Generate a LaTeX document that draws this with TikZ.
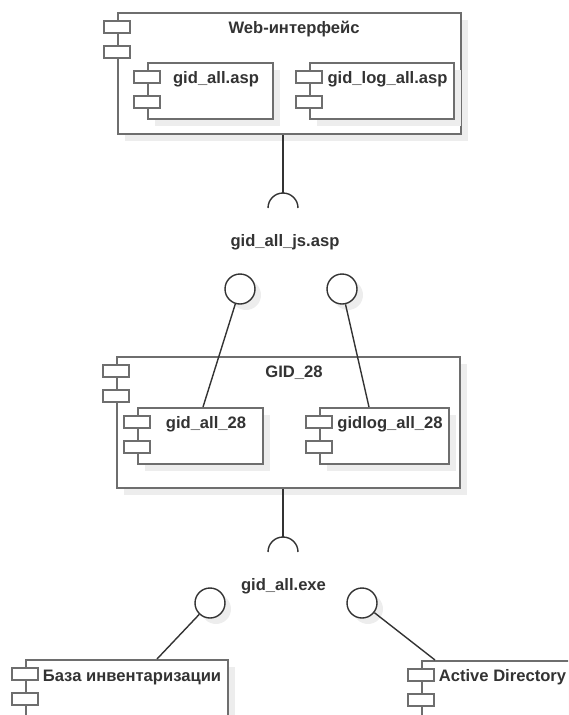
\documentclass[tikz,border=0pt]{standalone}
\usepackage{fontspec}
\setmainfont{Liberation Sans}
\usetikzlibrary{shadows}

\definecolor{boxgray}{HTML}{6E6E6E}
\definecolor{txtgray}{HTML}{333333}
\definecolor{shadowgray}{HTML}{EDEDED}

\begin{document}
\begin{tikzpicture}
        [x=1pt, y=-1pt,
        component/.style={draw=boxgray, line width=1.8pt, fill=white, anchor=north west, inner sep=0pt,
            general shadow={fill=shadowgray, shadow xshift=7pt, shadow yshift=-7pt}},
        stub/.style={draw=boxgray, line width=1.8pt, fill=white},
        iface/.style={circle, draw=txtgray, line width=1.4pt, fill=white, minimum size=30pt, inner sep=0pt,
            general shadow={fill=shadowgray, shadow xshift=6pt, shadow yshift=-6pt}},
        conn/.style={txtgray, line width=1.4pt},
        title/.style={font=\bfseries\fontsize{16.6}{19}\selectfont, text=txtgray, inner sep=0pt, anchor=base},
        stubs/.pic={
            \draw[stub] (-13,9) rectangle (13,21);
            \draw[stub] (-13,34) rectangle (13,46);
        }]

        \useasboundingbox (0,0) rectangle (568,715);
        \clip (0,0) rectangle (568,715);

        % --- Web part ---
        \node[component, minimum width=343pt, minimum height=121pt] (web) at (117,12) {};
        \pic at (web.north west) {stubs};
        \node[title] (webT) at (294,33.5) {Web-интерфейс};

        \node[component, minimum width=125pt, minimum height=56pt] (gidasp) at (147,62) {};
        \pic at (gidasp.north west) {stubs};
        \node[title] (gidaspT) at (216,83.5) {gid\_all.asp};

        \node[component, minimum width=144pt, minimum height=56pt] (logasp) at (309,62) {};
        \pic at (logasp.north west) {stubs};
        \node[title] (logaspT) at (387.5,83.5) {gid\_log\_all.asp};

        % --- GID_28 part ---
        \node[component, minimum width=343pt, minimum height=131pt] (gid) at (116,356) {};
        \pic at (gid.north west) {stubs};
        \node[title] (gidT) at (294,377.5) {GID\_28};

        \node[component, minimum width=125pt, minimum height=56pt] (gidall) at (137,407) {};
        \pic at (gidall.north west) {stubs};
        \node[title] (gidallT) at (206,428.5) {gid\_all\_28};

        \node[component, minimum width=129pt, minimum height=56pt] (gidlog) at (319,407) {};
        \pic at (gidlog.north west) {stubs};
        \node[title] (gidlogT) at (390,428.5) {gidlog\_all\_28};

        % --- bottom components (cut by the page edge) ---
        \node[component, minimum width=202pt, minimum height=90pt] (inv) at (25,659) {};
        \pic at (inv.north west) {stubs};
        \node[title] (invT) at (132,681) {База инвентаризации};

        \node[component, minimum width=150pt, minimum height=90pt] (ad) at (421,660) {};
        \pic at (ad.north west) {stubs};
        \node[title] (adT) at (502.5,681.5) {Active Directory};

        % --- required interfaces (half circles) ---
        \coordinate (reqA) at (283,193);
        \coordinate (reqB) at (283,537);
        \draw[conn] (reqA |- web.south) -- (reqA);
        \draw[conn] ([xshift=-15pt, yshift=-15pt]reqA) arc[start angle=180, end angle=0, radius=15pt];
        \draw[conn] (reqB |- gid.south) -- (reqB);
        \draw[conn] ([xshift=-15pt, yshift=-15pt]reqB) arc[start angle=180, end angle=0, radius=15pt];

        \node[title] (jsT) at (285,246.5) {gid\_all\_js.asp};
        \node[title] (exeT) at (283.5,590) {gid\_all.exe};

        % --- provided interfaces (lollipops) ---
        \node[iface] (provA) at (240,289) {};
        \node[iface] (provB) at (342,289) {};
        \node[iface] (provC) at (210,603) {};
        \node[iface] (provD) at (362,603) {};

        \draw[conn] (provA) -- ([xshift=66pt]gidall.north west);
        \draw[conn] (provB) -- ([xshift=50pt]gidlog.north west);
        \draw[conn] (provC) -- ([xshift=132pt]inv.north west);
        \draw[conn] (provD) -- ([xshift=14pt]ad.north west);
    \end{tikzpicture}
\end{document}
